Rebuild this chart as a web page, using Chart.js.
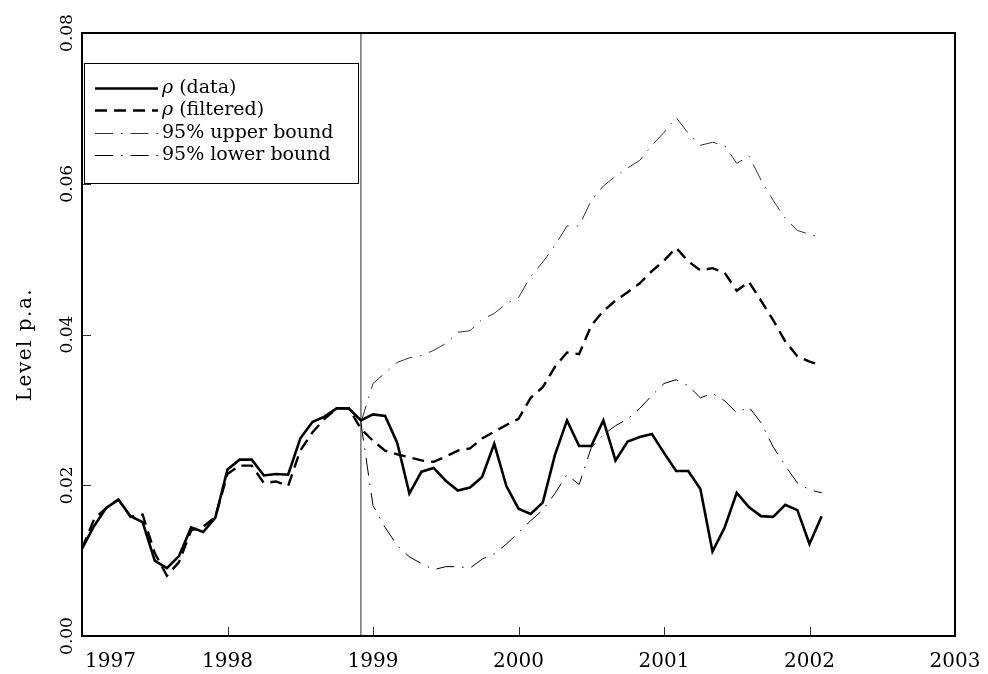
<!DOCTYPE html>
<html>
<head>
<meta charset="utf-8">
<script src="https://cdn.jsdelivr.net/npm/chart.js@4.4.1/dist/chart.umd.min.js"></script>
<style>
  html, body { margin: 0; padding: 0; background: #fff; }
  #wrap { width: 988px; height: 674px; }
</style>
</head>
<body>
<div id="wrap"><canvas id="rhoChart"></canvas></div>
<script>
// ─── Data (monthly, Jan 1997 .. Feb 2002) ───
const firstYear = 1997;
const yearTicks = [1997, 1998, 1999, 2000, 2001, 2002, 2003];
const levelTicks = [0, 0.02, 0.04, 0.06, 0.08];
const forecastStart = 1998 + 11 / 12;   // Dec 1998, start of the bands

const rhoData = [
  0.0116, 0.0146, 0.0170, 0.0181, 0.0159, 0.0151, 0.0100, 0.0090, 0.0106, 0.0144, 0.0138, 0.0157,
  0.0221, 0.0234, 0.0234, 0.0213, 0.0215, 0.0214, 0.0262, 0.0284, 0.0291, 0.0302, 0.0302, 0.0286,
  0.0294, 0.0292, 0.0256, 0.0189, 0.0218, 0.0223, 0.0206, 0.0193, 0.0197, 0.0211, 0.0255, 0.0199,
  0.0169, 0.0162, 0.0177, 0.0240, 0.0286, 0.0252, 0.0252, 0.0286, 0.0233, 0.0258, 0.0264, 0.0268,
  0.0243, 0.0219, 0.0219, 0.0195, 0.0112, 0.0144, 0.0190, 0.0171, 0.0159, 0.0158, 0.0174, 0.0167,
  0.0122, 0.0159
];

const rhoFiltered = [
  0.0116, 0.0155, 0.0170, 0.0181, 0.0158, 0.0161, 0.0110, 0.0080, 0.0098, 0.0140, 0.0145, 0.0158,
  0.0215, 0.0226, 0.0226, 0.0203, 0.0205, 0.0199, 0.0246, 0.0270, 0.0288, 0.0302, 0.0302, 0.0275,
  0.0259, 0.0246, 0.0241, 0.0237, 0.0233, 0.0231, 0.0238, 0.0246, 0.0249, 0.0262, 0.0271, 0.0280,
  0.0288, 0.0316, 0.0330, 0.0357, 0.0376, 0.0374, 0.0412, 0.0431, 0.0445, 0.0456, 0.0468, 0.0484,
  0.0498, 0.0515, 0.0497, 0.0485, 0.0488, 0.0482, 0.0458, 0.0470, 0.0445, 0.0419, 0.0391, 0.0371,
  0.0364, 0.0359
];

// bands start in Dec 1998
const upperBound = [
  0.0283,
  0.0335, 0.0349, 0.0363, 0.0369, 0.0372, 0.0379, 0.0388, 0.0403, 0.0405, 0.0420, 0.0428, 0.0441,
  0.0449, 0.0477, 0.0496, 0.0518, 0.0544, 0.0544, 0.0578, 0.0597, 0.0610, 0.0621, 0.0631, 0.0651,
  0.0668, 0.0688, 0.0667, 0.0651, 0.0655, 0.0651, 0.0627, 0.0637, 0.0605, 0.0578, 0.0554, 0.0538,
  0.0533, 0.0528
];

const lowerBound = [
  0.0283,
  0.0173, 0.0144, 0.0120, 0.0105, 0.0096, 0.0088, 0.0092, 0.0092, 0.0090, 0.0102, 0.0109, 0.0122,
  0.0137, 0.0153, 0.0167, 0.0189, 0.0214, 0.0201, 0.0250, 0.0267, 0.0279, 0.0288, 0.0302, 0.0319,
  0.0335, 0.0340, 0.0332, 0.0316, 0.0322, 0.0312, 0.0296, 0.0304, 0.0283, 0.0251, 0.0226, 0.0203,
  0.0194, 0.0190
];

// month index -> {x: decimal year, y}
const toPoints = (values, startYear) => values.map((v, i) => ({ x: startYear + i / 12, y: v }));

const SERIF = '"DejaVu Serif", "Liberation Serif", serif';

// ─── Plugins ───
// forecast origin, frame, inward tick marks, tick labels and the y title
const frameAndAxes = {
  id: 'frameAndAxes',
  beforeDatasetsDraw(chart) {
    const { ctx, chartArea: a, scales: { x } } = chart;
    const px = x.getPixelForValue(forecastStart);
    ctx.save();
    ctx.strokeStyle = '#7a7a7a';
    ctx.lineWidth = 1.6;
    ctx.beginPath();
    ctx.moveTo(px, a.top);
    ctx.lineTo(px, a.bottom);
    ctx.stroke();
    ctx.restore();
  },
  afterDraw(chart) {
    const { ctx, chartArea: a, scales: { x, y } } = chart;
    ctx.save();

    // tick marks
    ctx.strokeStyle = '#333';
    ctx.lineWidth = 1;
    ctx.beginPath();
    x.ticks.forEach((t) => {
      const px = Math.round(x.getPixelForValue(t.value)) + 0.5;
      ctx.moveTo(px, a.bottom);
      ctx.lineTo(px, a.bottom - 9);
    });
    y.ticks.forEach((t) => {
      const py = Math.round(y.getPixelForValue(t.value)) + 0.5;
      ctx.moveTo(a.left, py);
      ctx.lineTo(a.left + 9, py);
    });
    ctx.stroke();

    // frame
    ctx.strokeStyle = '#000';
    ctx.lineWidth = 2;
    ctx.strokeRect(a.left, a.top, a.right - a.left, a.bottom - a.top);

    // x labels (first one kept clear of the y labels)
    ctx.fillStyle = '#000';
    ctx.font = '20px ' + SERIF;
    ctx.textBaseline = 'alphabetic';
    x.ticks.forEach((t, i) => {
      const px = x.getPixelForValue(t.value);
      ctx.textAlign = i === 0 ? 'left' : 'center';
      ctx.fillText(String(t.value), i === 0 ? a.left + 3 : px, a.bottom + 31);
    });

    // y labels, rotated
    ctx.font = '17px ' + SERIF;
    y.ticks.forEach((t) => {
      const py = y.getPixelForValue(t.value);
      ctx.save();
      ctx.translate(a.left - 10, py);
      ctx.rotate(-Math.PI / 2);
      ctx.textAlign = 'center';
      ctx.fillText(t.value.toFixed(2), 0, 0);
      ctx.restore();
    });

    // y title
    ctx.font = '20px ' + SERIF;
    ctx.letterSpacing = '1.5px';
    ctx.save();
    ctx.translate(31, (a.top + a.bottom) / 2 + 10);
    ctx.rotate(-Math.PI / 2);
    ctx.textAlign = 'center';
    ctx.fillText('Level p.a.', 0, 0);
    ctx.restore();

    ctx.restore();
  }
};

// boxed legend in the upper-left corner of the plot
const boxLegend = {
  id: 'boxLegend',
  afterDatasetsDraw(chart) {
    const { ctx, chartArea: a } = chart;
    const x0 = a.left + 2, y0 = a.top + 30, w = 274, h = 120;
    ctx.save();
    ctx.fillStyle = '#fff';
    ctx.fillRect(x0, y0, w, h);
    ctx.strokeStyle = '#000';
    ctx.lineWidth = 1;
    ctx.strokeRect(x0 + 0.5, y0 + 0.5, w, h);

    ctx.textBaseline = 'middle';
    ctx.textAlign = 'left';
    chart.data.datasets.forEach((ds, i) => {
      const ry = Math.round(y0 + 25 + i * 22.4) + 0.5;
      ctx.strokeStyle = ds.borderColor;
      ctx.lineWidth = ds.borderWidth;
      ctx.setLineDash(ds.borderDash || []);
      ctx.beginPath();
      ctx.moveTo(x0 + 11, ry);
      ctx.lineTo(x0 + 74, ry);
      ctx.stroke();
      ctx.setLineDash([]);

      ctx.fillStyle = '#000';
      let tx = x0 + 78;
      let text = ds.label;
      if (text.startsWith('ρ')) {
        // greek symbol set in italic
        ctx.font = 'italic 19px ' + SERIF;
        ctx.fillText('ρ', tx, ry);
        tx += ctx.measureText('ρ').width;
        text = text.slice(1);
      }
      ctx.font = '19px ' + SERIF;
      ctx.fillText(text, tx, ry);
    });
    ctx.restore();
  }
};

// ─── Chart ───
const lineStyle = { fill: false, tension: 0, pointRadius: 0, pointHoverRadius: 0 };

const chart = new Chart(document.getElementById('rhoChart'), {
  type: 'line',
  data: {
    datasets: [
      { ...lineStyle, label: 'ρ (data)', data: toPoints(rhoData, firstYear),
        borderColor: '#000', borderWidth: 2.6 },
      { ...lineStyle, label: 'ρ (filtered)', data: toPoints(rhoFiltered, firstYear),
        borderColor: '#000', borderWidth: 2.4, borderDash: [12, 7] },
      { ...lineStyle, label: '95% upper bound', data: toPoints(upperBound, forecastStart),
        borderColor: '#333', borderWidth: 1, borderDash: [18, 8, 1.5, 8] },
      { ...lineStyle, label: '95% lower bound', data: toPoints(lowerBound, forecastStart),
        borderColor: '#000', borderWidth: 1, borderDash: [18, 8, 1.5, 8] }
    ]
  },
  options: {
    responsive: true,
    maintainAspectRatio: false,
    animation: false,
    layout: { padding: { top: 33, right: 33, left: 0, bottom: 0 } },
    plugins: { legend: { display: false }, tooltip: { enabled: false } },
    scales: {
      x: {
        type: 'linear',
        min: yearTicks[0],
        max: yearTicks[yearTicks.length - 1],
        afterBuildTicks: (s) => { s.ticks = yearTicks.map((v) => ({ value: v })); },
        ticks: { display: false },
        grid: { display: false },
        border: { display: false },
        afterFit: (s) => { s.height = 38; }
      },
      y: {
        min: levelTicks[0],
        max: levelTicks[levelTicks.length - 1],
        afterBuildTicks: (s) => { s.ticks = levelTicks.map((v) => ({ value: v })); },
        ticks: { display: false },
        grid: { display: false },
        border: { display: false },
        afterFit: (s) => { s.width = 82; }
      }
    }
  },
  plugins: [frameAndAxes, boxLegend]
});
</script>
</body>
</html>
